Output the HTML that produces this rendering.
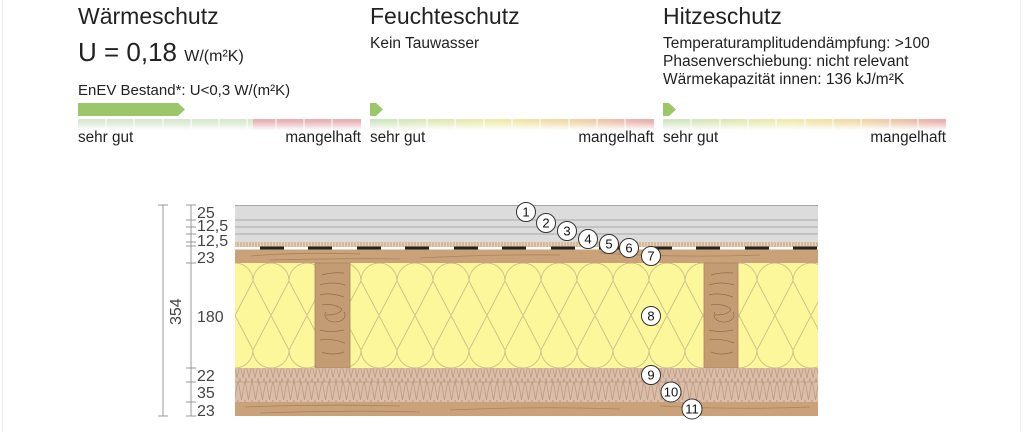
<!DOCTYPE html>
<html><head><meta charset="utf-8"><style>
body{margin:0;width:1024px;height:432px;background:#fff;overflow:hidden;font-family:"Liberation Sans",sans-serif;color:#222}
.t{position:absolute;white-space:nowrap;z-index:2}
.s{font-size:15.3px}
.r{text-align:right;width:150px}
</style></head><body>
<div style="position:absolute;left:2px;top:0;width:1px;height:432px;background:#eee"></div>
<div style="position:absolute;left:1020px;top:0;width:1px;height:432px;background:#eee"></div>
<div class="t" style="left:78px;top:3px;font-size:23px">Wärmeschutz</div>
<div class="t" style="left:78px;top:37px;font-size:26px">U = 0,18 <span style="font-size:16px">W/(m²K)</span></div>
<div class="t" style="left:78px;top:82px;font-size:15px">EnEV Bestand*: U&lt;0,3 W/(m²K)</div>
<div class="t" style="left:370px;top:3px;font-size:23px">Feuchteschutz</div>
<div class="t" style="left:370px;top:35px;font-size:15.5px">Kein Tauwasser</div>
<div class="t" style="left:663px;top:3px;font-size:23px">Hitzeschutz</div>
<div class="t" style="left:663px;top:35px;font-size:15.5px;line-height:18px">Temperaturamplitudendämpfung: &gt;100<br>Phasenverschiebung: nicht relevant<br>Wärmekapazität innen: 136 kJ/m²K</div>
<div class="t s" style="left:78px;top:129px">sehr gut</div>
<div class="t s r" style="left:211px;top:129px">mangelhaft</div>
<div class="t s" style="left:370px;top:129px">sehr gut</div>
<div class="t s r" style="left:504px;top:129px">mangelhaft</div>
<div class="t s" style="left:663px;top:129px">sehr gut</div>
<div class="t s r" style="left:796px;top:129px">mangelhaft</div>
<svg width="1024" height="432" style="position:absolute;left:0;top:0;z-index:1" font-family="Liberation Sans, sans-serif">
<defs>
<linearGradient id="fade" x1="0" y1="0" x2="0" y2="1"><stop offset="0" stop-color="#fff" stop-opacity="0"/><stop offset="1" stop-color="#fff" stop-opacity="1"/></linearGradient>
<linearGradient id="g2" x1="0" x2="1"><stop offset="0" stop-color="#cfe5c4"/><stop offset="0.45" stop-color="#f0ecb0"/><stop offset="0.7" stop-color="#f2d8a8"/><stop offset="1" stop-color="#e8aeb0"/></linearGradient>
<clipPath id="ins"><rect x="235" y="263" width="583" height="105"/></clipPath>
<pattern id="zz1" width="6" height="14" patternUnits="userSpaceOnUse"><path d="M0 0 L3 14 L6 0" fill="none" stroke="#b89a88" stroke-width="0.8"/></pattern>
<pattern id="zz2" width="7" height="20" patternUnits="userSpaceOnUse"><path d="M0 0 L3.5 20 L7 0" fill="none" stroke="#b89a88" stroke-width="0.8"/></pattern>
<pattern id="hat" width="3" height="5" patternUnits="userSpaceOnUse"><rect width="3" height="5" fill="#e8d3b8"/><line x1="1" y1="0" x2="1" y2="5" stroke="#b8926c" stroke-width="0.8"/></pattern>
</defs>
<path d="M78 103 H178 L185 109.5 L178 116 H78Z" fill="#9bc76a"/>
<path d="M370 103 H376 L383 109.5 L376 116 H370Z" fill="#9bc76a"/>
<path d="M663 103 H669 L676 109.5 L669 116 H663Z" fill="#9bc76a"/>
<rect x="78" y="119" width="175" height="11" fill="#d7e8cf"/>
<rect x="253" y="119" width="108" height="11" fill="#e8b2b6"/>
<rect x="370" y="119" width="284" height="11" fill="url(#g2)"/>
<rect x="663" y="119" width="283" height="11" fill="url(#g2)"/>
<g stroke="#fff" stroke-width="1">
<path d="M106 119v11M134 119v11M163 119v11M191 119v11M219 119v11M247 119v11M276 119v11M304 119v11M332 119v11"/>
<path d="M398 119v11M427 119v11M455 119v11M484 119v11M512 119v11M540 119v11M569 119v11M597 119v11M625 119v11"/>
<path d="M691 119v11M720 119v11M748 119v11M776 119v11M805 119v11M833 119v11M861 119v11M890 119v11M918 119v11"/>
</g>
<rect x="70" y="121" width="890" height="9.5" fill="url(#fade)"/>
<rect x="235" y="205" width="583" height="37" fill="#dcdcdc"/>
<g stroke="#a8a8a8" stroke-width="1"><path d="M235 205.5H818M235 220H818M235 227H818M235 234H818"/></g>
<rect x="235" y="242" width="583" height="5" fill="url(#hat)"/>
<rect x="235" y="247" width="583" height="2.5" fill="#fff"/>
<g fill="#222">
<rect x="260" y="246.5" width="24" height="3"/><rect x="308" y="246.5" width="24" height="3"/><rect x="357" y="246.5" width="24" height="3"/><rect x="405" y="246.5" width="24" height="3"/><rect x="454" y="246.5" width="24" height="3"/><rect x="502" y="246.5" width="24" height="3"/><rect x="551" y="246.5" width="24" height="3"/><rect x="599" y="246.5" width="24" height="3"/><rect x="648" y="246.5" width="24" height="3"/><rect x="696" y="246.5" width="24" height="3"/><rect x="745" y="246.5" width="24" height="3"/><rect x="793" y="246.5" width="24" height="3"/>
</g>
<rect x="235" y="249.5" width="583" height="13.5" fill="#c9a27a"/>
<g stroke="#a8835e" stroke-width="0.8" fill="none"><path d="M250 256 Q300 252 360 254M420 258 Q500 254 560 255M600 253 Q680 258 760 255M270 260 Q350 258 400 259"/></g>
<rect x="235" y="263" width="583" height="105" fill="#fdf79c"/>
<g clip-path="url(#ins)" stroke="#c8c088" stroke-width="0.9" fill="none">
<path d="M217 281 A18 18 0 0 1 253 281 L217 350 A18 18 0 0 0 253 350 L217 281
M253 281 A18 18 0 0 1 289 281 L253 350 A18 18 0 0 0 289 350 L253 281
M289 281 A18 18 0 0 1 325 281 L289 350 A18 18 0 0 0 325 350 L289 281
M325 281 A18 18 0 0 1 361 281 L325 350 A18 18 0 0 0 361 350 L325 281
M361 281 A18 18 0 0 1 397 281 L361 350 A18 18 0 0 0 397 350 L361 281
M397 281 A18 18 0 0 1 433 281 L397 350 A18 18 0 0 0 433 350 L397 281
M433 281 A18 18 0 0 1 469 281 L433 350 A18 18 0 0 0 469 350 L433 281
M469 281 A18 18 0 0 1 505 281 L469 350 A18 18 0 0 0 505 350 L469 281
M505 281 A18 18 0 0 1 541 281 L505 350 A18 18 0 0 0 541 350 L505 281
M541 281 A18 18 0 0 1 577 281 L541 350 A18 18 0 0 0 577 350 L541 281
M577 281 A18 18 0 0 1 613 281 L577 350 A18 18 0 0 0 613 350 L577 281
M613 281 A18 18 0 0 1 649 281 L613 350 A18 18 0 0 0 649 350 L613 281
M649 281 A18 18 0 0 1 685 281 L649 350 A18 18 0 0 0 685 350 L649 281
M685 281 A18 18 0 0 1 721 281 L685 350 A18 18 0 0 0 721 350 L685 281
M721 281 A18 18 0 0 1 757 281 L721 350 A18 18 0 0 0 757 350 L721 281
M757 281 A18 18 0 0 1 793 281 L757 350 A18 18 0 0 0 793 350 L757 281
M793 281 A18 18 0 0 1 829 281 L793 350 A18 18 0 0 0 829 350 L793 281"/>
</g>
<rect x="315" y="263" width="35" height="105" fill="#c49c74" stroke="#a8835e" stroke-width="0.8"/>
<rect x="704" y="263" width="34" height="105" fill="#c49c74" stroke="#a8835e" stroke-width="0.8"/>
<g stroke="#8e6d4e" stroke-width="0.7" fill="none">
<path d="M322 275 q10 -3 22 -2M320 285 q12 -4 25 0M320 295 q10 -3 24 2M322 305 q12 -2 20 4 q-2 6 -16 6M326 312 a10 7 0 1 0 18 0M320 330 q10 3 24 0M320 340 q12 -2 25 3M322 352 q10 4 22 0"/>
<path d="M711 275 q10 -3 22 -2M709 285 q12 -4 25 0M709 295 q10 -3 24 2M711 305 q12 -2 20 4 q-2 6 -16 6M715 312 a10 7 0 1 0 18 0M709 330 q10 3 24 0M709 340 q12 -2 25 3M711 352 q10 4 22 0"/>
</g>
<rect x="235" y="368" width="583" height="14" fill="#dcbda8"/>
<rect x="235" y="368" width="583" height="14" fill="url(#zz1)"/>
<rect x="235" y="382" width="583" height="20" fill="#dcbda8"/>
<rect x="235" y="382" width="583" height="20" fill="url(#zz2)"/>
<line x1="235" y1="382" x2="818" y2="382" stroke="#b89a88" stroke-width="0.8"/>
<rect x="235" y="402" width="583" height="14" fill="#c9a27a"/>
<g stroke="#a8835e" stroke-width="0.8" fill="none"><path d="M245 407 Q320 404 400 406M450 410 Q540 406 620 409M660 406 Q740 410 810 407M260 413 Q340 410 420 412"/></g>
<g stroke="#999" stroke-width="1" fill="none">
<path d="M163 205V416M158 205H168M158 416H168"/>
<path d="M191 205V416M186 205H196M186 220H196M186 227H196M186 234H196M186 242H196M186 246H196M186 263H196M186 368H196M186 382H196M186 402H196M186 416H196"/>
</g>
<g font-size="16" fill="#444">
<text x="197" y="218">25</text><text x="197" y="231">12,5</text><text x="197" y="246">12,5</text><text x="197" y="263">23</text>
<text x="197" y="322">180</text><text x="197" y="381">22</text><text x="197" y="398">35</text><text x="197" y="416">23</text>
<text transform="translate(181 325) rotate(-90)">354</text>
</g>
<g font-size="13" text-anchor="middle" fill="#111">
<g fill="#fff" stroke="#333" stroke-width="1">
<circle cx="526" cy="212" r="9.5"/><circle cx="546" cy="223" r="9.5"/><circle cx="567" cy="231" r="9.5"/><circle cx="588" cy="239" r="9.5"/><circle cx="609" cy="244" r="9.5"/><circle cx="629" cy="248" r="9.5"/><circle cx="651" cy="256" r="9.5"/><circle cx="651" cy="316" r="9.5"/><circle cx="651" cy="375" r="9.5"/><circle cx="671" cy="392" r="10"/><circle cx="692" cy="409" r="10"/>
</g>
<text x="526" y="216.5">1</text><text x="546" y="227.5">2</text><text x="567" y="235.5">3</text><text x="588" y="243.5">4</text><text x="609" y="248.5">5</text><text x="629" y="252.5">6</text><text x="651" y="260.5">7</text><text x="651" y="320.5">8</text><text x="651" y="379.5">9</text><text x="671" y="396.5">10</text><text x="692" y="413.5">11</text>
</g>
</svg>
</body></html>
